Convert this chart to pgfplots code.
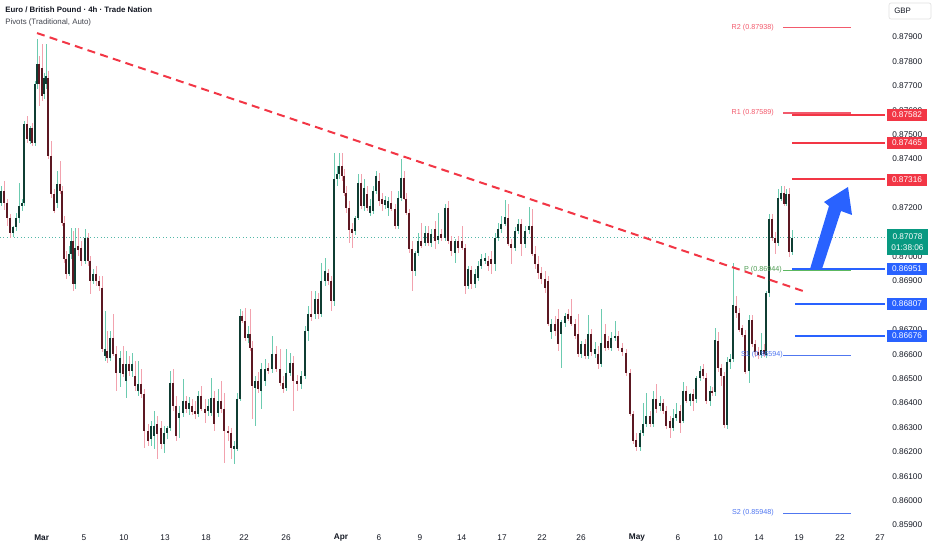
\documentclass[border=0pt]{standalone}
\usepackage{pgfplots}
\pgfplotsset{compat=1.18}
\usepackage{pgfplotstable}
\usepackage{fontspec}
\setmainfont{Liberation Sans}
\definecolor{upbody}{HTML}{0F3D33}
\definecolor{upwick}{HTML}{6CCBB0}
\definecolor{dnbody}{HTML}{5C1822}
\definecolor{dnwick}{HTML}{F2A2AE}
\definecolor{tvred}{HTML}{F23645}
\definecolor{tvblue}{HTML}{2962FF}
\definecolor{tvgreen}{HTML}{089981}
\definecolor{pivred}{HTML}{F25A6C}
\definecolor{pivgreen}{HTML}{5CB860}
\definecolor{pivblue}{HTML}{5077F0}
\definecolor{tvtext}{HTML}{131722}

\pgfplotstableread{
x o h l c
1 0.87221 0.87291 0.87209 0.87270
13 0.87098 0.87127 0.87082 0.87123
16 0.87123 0.87180 0.87107 0.87160
19 0.87160 0.87303 0.87139 0.87209
22 0.87209 0.87238 0.87189 0.87221
24 0.87221 0.87557 0.87209 0.87545
30 0.87475 0.87537 0.87463 0.87529
35 0.87467 0.87721 0.87455 0.87709
37 0.87709 0.87893 0.87688 0.87791
44 0.87668 0.87754 0.87648 0.87734
46 0.87709 0.87873 0.87688 0.87742
57 0.87221 0.87352 0.87201 0.87299
69 0.86930 0.87045 0.86922 0.87012
71 0.87012 0.87119 0.86992 0.87066
75 0.86889 0.87119 0.86869 0.87037
85 0.86984 0.87115 0.86971 0.87078
93 0.86902 0.86951 0.86889 0.86930
105 0.86594 0.86779 0.86574 0.86623
110 0.86586 0.86697 0.86574 0.86668
120 0.86525 0.86615 0.86467 0.86586
126 0.86492 0.86615 0.86422 0.86561
132 0.86533 0.86607 0.86508 0.86561
138 0.86451 0.86574 0.86430 0.86479
151 0.86254 0.86328 0.86225 0.86307
154 0.86266 0.86369 0.86213 0.86307
164 0.86234 0.86307 0.86197 0.86279
167 0.86279 0.86307 0.86254 0.86299
170 0.86299 0.86533 0.86287 0.86484
179 0.86340 0.86389 0.86258 0.86361
183 0.86361 0.86500 0.86344 0.86410
189 0.86377 0.86426 0.86352 0.86402
198 0.86357 0.86451 0.86344 0.86430
208 0.86369 0.86418 0.86348 0.86389
211 0.86361 0.86504 0.86348 0.86422
218 0.86361 0.86459 0.86344 0.86410
234 0.86213 0.86246 0.86152 0.86225
237 0.86213 0.86439 0.86205 0.86418
240 0.86418 0.86787 0.86410 0.86758
248 0.86668 0.86717 0.86648 0.86684
255 0.86463 0.86512 0.86307 0.86492
261 0.86451 0.86566 0.86377 0.86541
265 0.86492 0.86582 0.86471 0.86541
272 0.86541 0.86676 0.86525 0.86602
286 0.86463 0.86623 0.86451 0.86525
290 0.86525 0.86607 0.86512 0.86566
301 0.86479 0.86533 0.86459 0.86512
305 0.86512 0.86717 0.86500 0.86697
308 0.86697 0.86799 0.86656 0.86766
315 0.86766 0.86861 0.86746 0.86828
321 0.86766 0.86975 0.86754 0.86902
325 0.86902 0.86996 0.86881 0.86943
334 0.86820 0.87426 0.86799 0.87320
337 0.87320 0.87373 0.87291 0.87340
339 0.87340 0.87426 0.87320 0.87373
355 0.87107 0.87168 0.87090 0.87160
358 0.87160 0.87340 0.87148 0.87303
364 0.87209 0.87320 0.87189 0.87283
370 0.87180 0.87238 0.87168 0.87209
373 0.87189 0.87291 0.87176 0.87270
376 0.87270 0.87352 0.87258 0.87332
385 0.87209 0.87250 0.87197 0.87230
388 0.87201 0.87246 0.87168 0.87230
398 0.87127 0.87270 0.87115 0.87242
401 0.87242 0.87402 0.87230 0.87324
415 0.86943 0.87025 0.86922 0.87016
418 0.87016 0.87098 0.87004 0.87066
425 0.87057 0.87127 0.87045 0.87098
431 0.87057 0.87115 0.87041 0.87094
438 0.87066 0.87180 0.87053 0.87086
445 0.87078 0.87217 0.87066 0.87201
455 0.87016 0.87074 0.86975 0.87066
468 0.86881 0.86963 0.86869 0.86951
475 0.86889 0.86951 0.86873 0.86930
478 0.86914 0.86984 0.86902 0.86963
481 0.86963 0.87012 0.86951 0.86992
485 0.86984 0.87016 0.86971 0.86996
495 0.86971 0.87098 0.86943 0.87078
498 0.87078 0.87139 0.87066 0.87115
501 0.87115 0.87168 0.87098 0.87135
505 0.87135 0.87230 0.87123 0.87160
515 0.87037 0.87123 0.87025 0.87107
518 0.87107 0.87156 0.87094 0.87135
525 0.87053 0.87127 0.87037 0.87107
529 0.87107 0.87201 0.87094 0.87127
551 0.86689 0.86746 0.86664 0.86725
561 0.86684 0.86738 0.86541 0.86730
565 0.86730 0.86770 0.86713 0.86758
581 0.86602 0.86656 0.86586 0.86643
588 0.86594 0.86761 0.86582 0.86684
595 0.86602 0.86648 0.86586 0.86623
601 0.86561 0.86787 0.86549 0.86648
611 0.86627 0.86689 0.86615 0.86668
615 0.86668 0.86738 0.86656 0.86676
640 0.86221 0.86289 0.86205 0.86279
643 0.86279 0.86402 0.86266 0.86316
646 0.86316 0.86439 0.86303 0.86348
653 0.86316 0.86451 0.86303 0.86418
660 0.86389 0.86430 0.86369 0.86402
673 0.86299 0.86377 0.86287 0.86340
676 0.86340 0.86402 0.86328 0.86357
683 0.86328 0.86484 0.86316 0.86451
690 0.86410 0.86443 0.86389 0.86439
696 0.86418 0.86512 0.86402 0.86504
700 0.86504 0.86553 0.86492 0.86533
710 0.86410 0.86471 0.86389 0.86451
715 0.86443 0.86709 0.86430 0.86656
727 0.86310 0.86590 0.86295 0.86570
730 0.86570 0.86600 0.86540 0.86580
733 0.86580 0.86976 0.86570 0.86800
749 0.86530 0.86760 0.86480 0.86740
761 0.86597 0.86690 0.86585 0.86620
766 0.86597 0.86861 0.86586 0.86852
769 0.86852 0.87176 0.86836 0.87156
778 0.87057 0.87279 0.87045 0.87238
781 0.87238 0.87291 0.87230 0.87262
786 0.87217 0.87279 0.87209 0.87258
792 0.87021 0.87107 0.87005 0.87078
}\upTab

\pgfplotstableread{
x o h l c
4 0.87270 0.87311 0.87189 0.87221
7 0.87221 0.87238 0.87127 0.87160
10 0.87160 0.87176 0.87078 0.87098
27 0.87545 0.87578 0.87467 0.87484
32 0.87529 0.87549 0.87455 0.87467
39 0.87791 0.87824 0.87619 0.87709
42 0.87775 0.87873 0.87639 0.87660
48 0.87734 0.87762 0.87402 0.87414
51 0.87414 0.87475 0.87242 0.87258
54 0.87258 0.87279 0.87180 0.87189
60 0.87299 0.87393 0.87258 0.87270
62 0.87270 0.87291 0.87127 0.87139
64 0.87139 0.87168 0.86975 0.86992
66 0.86992 0.87025 0.86910 0.86930
73 0.87066 0.87107 0.86861 0.86889
78 0.87045 0.87119 0.87004 0.87025
81 0.87037 0.87066 0.86963 0.86984
88 0.87078 0.87098 0.86963 0.86984
90 0.86984 0.87004 0.86848 0.86902
96 0.86930 0.86963 0.86881 0.86902
99 0.86902 0.86922 0.86861 0.86881
102 0.86873 0.86922 0.86607 0.86623
107 0.86615 0.86697 0.86566 0.86586
113 0.86668 0.86766 0.86594 0.86602
116 0.86602 0.86635 0.86451 0.86525
123 0.86561 0.86635 0.86508 0.86520
129 0.86561 0.86594 0.86512 0.86533
135 0.86512 0.86574 0.86451 0.86471
141 0.86479 0.86541 0.86422 0.86438
144 0.86438 0.86459 0.86217 0.86287
148 0.86287 0.86316 0.86225 0.86246
157 0.86316 0.86348 0.86172 0.86275
161 0.86299 0.86328 0.86213 0.86234
173 0.86484 0.86541 0.86369 0.86389
176 0.86389 0.86430 0.86246 0.86266
186 0.86410 0.86430 0.86361 0.86377
192 0.86389 0.86418 0.86352 0.86365
195 0.86369 0.86410 0.86336 0.86357
201 0.86430 0.86471 0.86369 0.86377
205 0.86377 0.86418 0.86320 0.86361
214 0.86422 0.86451 0.86287 0.86316
221 0.86410 0.86492 0.86361 0.86377
224 0.86377 0.86443 0.86156 0.86287
228 0.86287 0.86307 0.86246 0.86275
231 0.86275 0.86295 0.86172 0.86217
242 0.86758 0.86779 0.86730 0.86738
245 0.86738 0.86791 0.86656 0.86668
250 0.86684 0.86787 0.86615 0.86627
252 0.86627 0.86656 0.86336 0.86471
258 0.86492 0.86525 0.86443 0.86459
268 0.86545 0.86566 0.86520 0.86533
276 0.86602 0.86635 0.86525 0.86541
280 0.86541 0.86623 0.86471 0.86484
283 0.86484 0.86512 0.86443 0.86459
293 0.86566 0.86594 0.86369 0.86492
297 0.86492 0.86516 0.86451 0.86479
311 0.86766 0.86861 0.86738 0.86754
318 0.86828 0.86852 0.86746 0.86766
328 0.86934 0.86951 0.86885 0.86902
331 0.86902 0.86922 0.86779 0.86820
342 0.87373 0.87426 0.87311 0.87332
344 0.87332 0.87361 0.87250 0.87262
346 0.87262 0.87291 0.87180 0.87201
349 0.87201 0.87230 0.87057 0.87107
352 0.87115 0.87139 0.87037 0.87098
361 0.87303 0.87340 0.87197 0.87209
367 0.87258 0.87291 0.87189 0.87201
379 0.87311 0.87344 0.87209 0.87230
382 0.87238 0.87262 0.87189 0.87217
391 0.87221 0.87270 0.87189 0.87197
395 0.87197 0.87217 0.87115 0.87127
404 0.87324 0.87352 0.87230 0.87238
406 0.87238 0.87262 0.87172 0.87180
409 0.87180 0.87197 0.87016 0.87033
412 0.87033 0.87066 0.86861 0.86943
421 0.87066 0.87139 0.87037 0.87045
428 0.87098 0.87127 0.87045 0.87057
435 0.87115 0.87148 0.87033 0.87066
441 0.87094 0.87115 0.87066 0.87078
448 0.87201 0.87230 0.87053 0.87066
451 0.87066 0.87086 0.87004 0.87025
458 0.87066 0.87086 0.87016 0.87037
462 0.87066 0.87127 0.87025 0.87037
465 0.87037 0.87053 0.86848 0.86881
471 0.86943 0.86963 0.86869 0.86889
488 0.86984 0.87004 0.86943 0.86963
491 0.86992 0.87025 0.86930 0.86971
508 0.87160 0.87217 0.87045 0.87053
511 0.87053 0.87074 0.86971 0.87037
521 0.87135 0.87156 0.87004 0.87053
532 0.87127 0.87197 0.87004 0.87012
535 0.87012 0.87045 0.86951 0.86971
538 0.86971 0.87004 0.86910 0.86934
541 0.86934 0.86959 0.86889 0.86910
545 0.86910 0.86943 0.86852 0.86873
548 0.86902 0.86922 0.86717 0.86725
555 0.86725 0.86758 0.86676 0.86697
558 0.86746 0.86787 0.86615 0.86643
568 0.86766 0.86787 0.86738 0.86746
571 0.86758 0.86828 0.86717 0.86725
575 0.86725 0.86746 0.86664 0.86676
578 0.86684 0.86766 0.86590 0.86602
585 0.86643 0.86664 0.86582 0.86594
591 0.86684 0.86705 0.86594 0.86607
598 0.86602 0.86635 0.86541 0.86561
605 0.86684 0.86725 0.86615 0.86627
608 0.86656 0.86676 0.86615 0.86627
618 0.86676 0.86697 0.86615 0.86627
622 0.86627 0.86648 0.86594 0.86607
626 0.86607 0.86623 0.86512 0.86525
630 0.86525 0.86541 0.86348 0.86357
633 0.86357 0.86369 0.86234 0.86246
636 0.86246 0.86275 0.86205 0.86221
650 0.86348 0.86369 0.86303 0.86316
656 0.86418 0.86480 0.86361 0.86377
663 0.86402 0.86418 0.86357 0.86369
666 0.86369 0.86389 0.86295 0.86307
670 0.86328 0.86348 0.86258 0.86299
680 0.86369 0.86394 0.86279 0.86320
686 0.86451 0.86471 0.86402 0.86410
693 0.86439 0.86459 0.86369 0.86410
703 0.86541 0.86561 0.86500 0.86512
706 0.86504 0.86525 0.86398 0.86410
712 0.86451 0.86467 0.86430 0.86443
718 0.86656 0.86690 0.86530 0.86545
721 0.86545 0.86560 0.86470 0.86512
724 0.86512 0.86530 0.86300 0.86310
736 0.86800 0.86840 0.86750 0.86770
739 0.86770 0.86790 0.86690 0.86699
742 0.86710 0.86720 0.86670 0.86680
745 0.86680 0.86700 0.86520 0.86530
752 0.86740 0.86760 0.86630 0.86643
755 0.86643 0.86660 0.86590 0.86610
758 0.86610 0.86630 0.86580 0.86597
764 0.86620 0.86640 0.86590 0.86600
772 0.87156 0.87176 0.87066 0.87078
775 0.87078 0.87100 0.87012 0.87057
784 0.87262 0.87291 0.87209 0.87217
789 0.87258 0.87283 0.87000 0.87021
}\dnTab

\begin{document}
\begin{tikzpicture}[x=1pt,y=1pt]
\useasboundingbox (0,0) rectangle (699,412.5);
\begin{axis}[
  at={(0pt,16.5pt)}, anchor=south west,
  scale only axis, width=663.75pt, height=396pt,
  xmin=0, xmax=885, ymin=0.858877, ymax=0.880516,
  axis line style={draw=none}, tick style={draw=none},
  scaled y ticks=false, scaled x ticks=false,
  /pgf/number format/assume math mode=true,
  xtick={41.7,84,124,165,206,244,286,341,379,420,461.7,502,542,581,637,678,718,759,799,840,880},
  xticklabels={\textbf{Mar},5,10,13,18,22,26,\textbf{Apr},6,9,14,17,22,26,\textbf{May},6,10,14,19,22,27},
  xticklabel style={anchor=center, yshift=-6.9pt, inner sep=0pt, text=tvtext, font=\fontsize{6.2}{7}\selectfont},
  ytick={0.859,0.860,0.861,0.862,0.863,0.864,0.865,0.866,0.867,0.869,0.870,0.872,0.874,0.875,0.876,0.877,0.878,0.879},
  yticklabel pos=right,
  yticklabel style={anchor=west, xshift=5.25pt, inner sep=0pt, text=tvtext, font=\fontsize{6.2}{7}\selectfont,
    /pgf/number format/fixed, /pgf/number format/fixed zerofill, /pgf/number format/precision=5},
]
% current price dotted line
\addplot[tvgreen!70, dotted, line width=0.6pt, forget plot] coordinates {(0,0.87078) (885,0.87078)};
% wicks
\addplot[draw=none, forget plot, error bars/.cd, y dir=both, y explicit, error mark=none,
  error bar style={draw=dnwick, line width=0.6pt}]
  table[x=x, y expr={(\thisrow{h}+\thisrow{l})/2}, y error expr={(\thisrow{h}-\thisrow{l})/2}] {\dnTab};
\addplot[draw=none, forget plot, error bars/.cd, y dir=both, y explicit, error mark=none,
  error bar style={draw=upwick, line width=0.6pt}]
  table[x=x, y expr={(\thisrow{h}+\thisrow{l})/2}, y error expr={(\thisrow{h}-\thisrow{l})/2}] {\upTab};
% bodies
\addplot[draw=none, forget plot, error bars/.cd, y dir=both, y explicit, error mark=none,
  error bar style={draw=dnbody, line width=1.75pt}]
  table[x=x, y expr={(\thisrow{o}+\thisrow{c})/2}, y error expr={max((\thisrow{o}-\thisrow{c})/2,0.00002)}] {\dnTab};
\addplot[draw=none, forget plot, error bars/.cd, y dir=both, y explicit, error mark=none,
  error bar style={draw=upbody, line width=1.75pt}]
  table[x=x, y expr={(\thisrow{o}+\thisrow{c})/2}, y error expr={max((\thisrow{c}-\thisrow{o})/2,0.00002)}] {\upTab};
% trend line
\addplot[tvred, line width=1.5pt, dash pattern=on 6pt off 4pt, forget plot] coordinates {(37,0.87916) (803,0.86859)};
% pivot lines
\addplot[draw=pivred, line width=1pt, forget plot] coordinates {(783,0.87938) (851,0.87938)};
\addplot[draw=pivred, line width=1pt, forget plot] coordinates {(783,0.87589) (851,0.87589)};
\addplot[draw=pivgreen, line width=1pt, forget plot] coordinates {(783,0.86944) (851,0.86944)};
\addplot[draw=pivblue, line width=1pt, forget plot] coordinates {(783,0.86594) (851,0.86594)};
\addplot[draw=pivblue, line width=1pt, forget plot] coordinates {(783,0.85948) (851,0.85948)};
% key levels
\addplot[tvred, line width=1.5pt, forget plot] coordinates {(792,0.87582) (885,0.87582)};
\addplot[tvred, line width=1.5pt, forget plot] coordinates {(792,0.87465) (885,0.87465)};
\addplot[tvred, line width=1.5pt, forget plot] coordinates {(792,0.87316) (885,0.87316)};
\addplot[tvblue, line width=1.5pt, forget plot] coordinates {(792,0.86951) (885,0.86951)};
\addplot[tvblue, line width=1.5pt, forget plot] coordinates {(795,0.86807) (885,0.86807)};
\addplot[tvblue, line width=1.5pt, forget plot] coordinates {(795,0.86676) (885,0.86676)};
\end{axis}
\begin{scope}[x=0.75pt, y=-0.75pt, shift={(0pt,412.5pt)}]
  % arrow
  \fill[tvblue] (810,269) -- (822,269) -- (841,211) -- (852,215) -- (848,187) -- (824,202) -- (829,206) -- cycle;
  % header
  \node[anchor=west, inner sep=0pt, text=tvtext, font=\bfseries\fontsize{5.9}{7}\selectfont] at (5,10) {Euro / British Pound · 4h · Trade Nation};
  \node[anchor=west, inner sep=0pt, text=tvtext!80, font=\fontsize{5.9}{7}\selectfont] at (5,22) {Pivots (Traditional, Auto)};
  % pivot labels
  \tikzset{pl/.style={anchor=east, inner sep=0pt, font=\fontsize{5.4}{6}\selectfont}}
  \node[pl, text=pivred] at (774,28) {R2 (0.87938)};
  \node[pl, text=pivred] at (774,113) {R1 (0.87589)};
  \node[pl, text=pivgreen!85!black] at (782,270) {P (0.86944)};
  \node[pl, text=pivblue] at (783,355) {S1 (0.86594)};
  \node[pl, text=pivblue] at (774,513) {S2 (0.85948)};
  % GBP box
  \draw[black!12, rounded corners=1.5pt, line width=0.5pt] (889,3) rectangle (931,19);
  \node[anchor=west, inner sep=0pt, text=tvtext, font=\fontsize{5.9}{7}\selectfont] at (894,11) {GBP};
  % price boxes
  \tikzset{pb/.style={inner sep=0pt, minimum width=30pt, minimum height=9pt, text=white, font=\fontsize{6.2}{7}\selectfont}}
  \node[pb, fill=tvred] at (907,115) {0.87582};
  \node[pb, fill=tvred] at (907,143) {0.87465};
  \node[pb, fill=tvred] at (907,180) {0.87316};
  \node[pb, fill=tvblue] at (907,269) {0.86951};
  \node[pb, fill=tvblue] at (907,304) {0.86807};
  \node[pb, fill=tvblue] at (907,336) {0.86676};
  \node[fill=tvgreen, text=white, align=center, inner sep=0pt, minimum width=30.75pt, minimum height=19pt,
        font=\fontsize{6.2}{8}\selectfont] at (907.5,242) {0.87078\\01:38:06};
\end{scope}
\end{tikzpicture}
\end{document}
